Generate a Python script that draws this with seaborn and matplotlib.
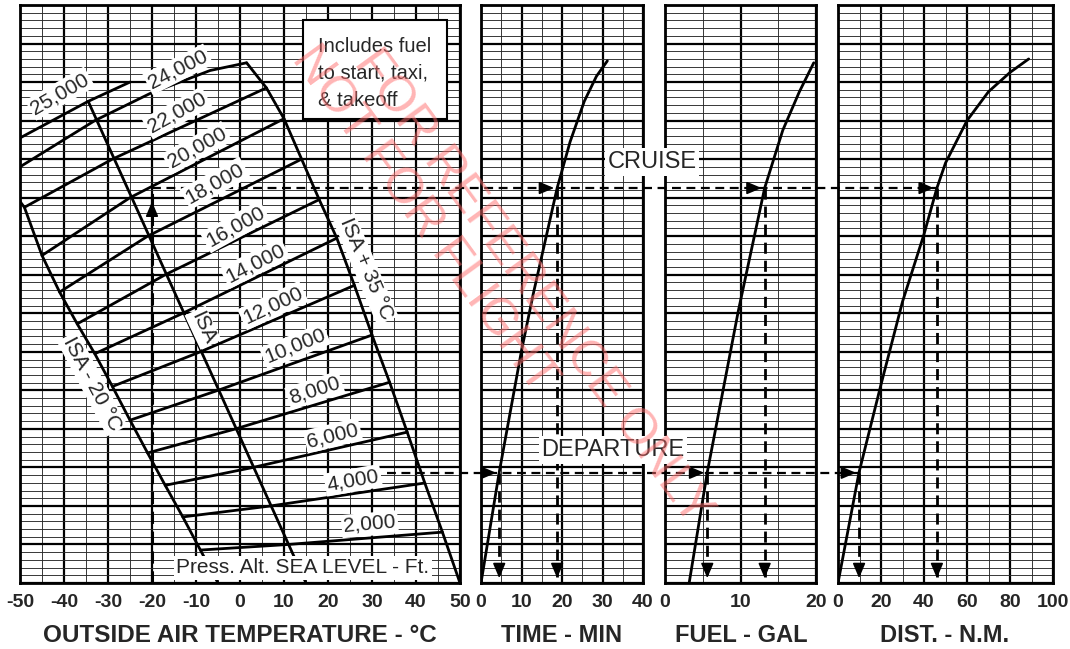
import numpy as np
import pandas as pd
import matplotlib
matplotlib.use("Agg")
import matplotlib.pyplot as plt
import seaborn as sns
from matplotlib.patches import Rectangle

sns.set_theme(style="white")
plt.rcParams['font.family'] = ['Liberation Sans', 'DejaVu Sans']

# ---------------- data ----------------
oat_ticks = [-50, -40, -30, -20, -10, 0, 10, 20, 30, 40, 50]
time_ticks = [0, 10, 20, 30, 40]
fuel_ticks = [0, 10, 20]
dist_ticks = [0, 20, 40, 60, 80, 100]

# pressure altitude lines : OAT (deg C) vs chart scale
pa_sl_oat = [-5, 15, 50];        pa_sl_y = [0.0, 0.0, 0.0]
pa_2k_oat = [-9, 11, 46];        pa_2k_y = [1.71, 2.0, 2.64]
pa_4k_oat = [-13, 7, 42];        pa_4k_y = [3.43, 4.0, 5.19]
pa_6k_oat = [-17, 3, 38];        pa_6k_y = [5.07, 6.0, 7.83]
pa_8k_oat = [-21, -1, 34];       pa_8k_y = [6.75, 8.0, 10.42]
pa_10k_oat = [-25, -5, 30];      pa_10k_y = [8.45, 10.0, 12.87]
pa_12k_oat = [-29, -9, 26];      pa_12k_y = [10.2, 12.0, 15.45]
pa_14k_oat = [-33, -13, 22];     pa_14k_y = [11.9, 14.0, 17.9]
pa_16k_oat = [-37, -17, 18];     pa_16k_y = [13.45, 16.0, 19.9]
pa_18k_oat = [-41, -21, 14];     pa_18k_y = [15.1, 18.0, 22.0]
pa_20k_oat = [-45, -25, 10];     pa_20k_y = [17.0, 20.0, 24.1]
pa_22k_oat = [-49, -29, 6];      pa_22k_y = [19.5, 22.0, 25.7]
pa_24k_oat = [-50, -33, -20.5, -6.8, 1.5]; pa_24k_y = [21.6, 24.0, 25.4, 26.6, 27.0]
pa_25k_oat = [-50, -34.5, -25];  pa_25k_y = [23.1, 25.0, 26.0]

isa_line_oat = [15, -34.5];      isa_line_y = [0.0, 25.0]
isa_m20_edge_oat = -50;          isa_m20_edge_y = 19.8

alt_label_text = ["25,000", "24,000", "22,000", "20,000", "18,000", "16,000", "14,000",
                  "12,000", "10,000", "8,000", "6,000", "4,000", "2,000"]
alt_label_oat = [-40.9, -14.1, -14.3, -9.8, -5.7, -1.1, 3.4, 7.5, 12.5, 17.0, 21.1, 25.7, 29.5]
alt_label_y = [25.4, 26.66, 24.4, 22.6, 20.75, 18.5, 16.6, 14.4, 12.3, 10.0, 7.66, 5.33, 3.05]
alt_label_rot = [30, 27, 29, 29, 29, 29, 27, 25, 22, 18, 14, 10, 5]

# climb curves (chart scale vs value)
time_min = [0, 4.5, 10.0, 12.9, 18.8, 22.0, 25.5, 28.5, 31.2]
time_y = [0, 5.75, 12.06, 15.0, 20.5, 22.9, 25.0, 26.3, 27.1]
fuel_gal = [3.2, 5.6, 9.7, 13.2, 15.6, 17.8, 19.7]
fuel_y = [0, 5.75, 14.1, 20.5, 23.5, 25.5, 27.0]
dist_nm = [0, 9.8, 20, 30, 40, 46, 50, 60, 70, 80, 88.7]
dist_y = [0, 5.75, 10.3, 14.6, 18.1, 20.5, 21.8, 24.0, 25.5, 26.5, 27.2]

# example (dashed) readings
cruise_y = 20.5;  cruise_oat = -20
cruise_time = 18.8; cruise_fuel = 13.2; cruise_dist = 46
depart_y = 5.72;  depart_start_oat = 33.5
depart_time = 4.5; depart_fuel = 5.6; depart_dist = 9.8

# ---------------- figure ----------------
W, H = 1070, 649
fig = plt.figure(figsize=(W / 100, H / 100), dpi=100)
fig.patch.set_facecolor("white")

def rect(x0, x1, y0=5, y1=583):
    return [x0 / W, 1 - y1 / H, (x1 - x0) / W, (y1 - y0) / H]

ax1 = fig.add_axes(rect(20, 460))
ax2 = fig.add_axes(rect(481, 643))
ax3 = fig.add_axes(rect(665, 816))
ax4 = fig.add_axes(rect(838, 1053))
ax1.set_zorder(5)

YMAX = 29.9
setup = [
    (ax1, (-50, 50), 10, 5, oat_ticks),
    (ax2, (0, 40), 10, 5, time_ticks),
    (ax3, (0, 20), 10, 5, fuel_ticks),
    (ax4, (0, 100), 20, 10, dist_ticks),
]
for ax, xl, xmaj, xmin, ticks in setup:
    ax.set_xlim(*xl)
    ax.set_ylim(0, YMAX)
    ax.set_xticks(np.arange(xl[0], xl[1] + 0.01, xmaj))
    ax.set_xticks(np.arange(xl[0], xl[1] + 0.01, xmin), minor=True)
    ax.set_xticklabels([str(t) for t in ticks], fontsize=14, fontweight="bold")
    ax.set_yticks(np.arange(0, 30.1, 2))
    ax.set_yticks(np.arange(0, 30.1, 0.4), minor=True)
    ax.set_yticklabels([])
    ax.tick_params(which="both", length=0, pad=8)
    ax.grid(which="minor", color="#2a2a2a", lw=0.65)
    ax.grid(which="major", color="black", lw=1.6)
    ax.set_axisbelow(True)
    for s in ax.spines.values():
        s.set_color("black")
        s.set_linewidth(2)
        s.set_visible(True)
    ax.set_xlabel("")
    ax.set_ylabel("")

# -------- left panel: altitude lines --------
pa_oats = [pa_sl_oat, pa_2k_oat, pa_4k_oat, pa_6k_oat, pa_8k_oat, pa_10k_oat, pa_12k_oat,
           pa_14k_oat, pa_16k_oat, pa_18k_oat, pa_20k_oat, pa_22k_oat, pa_24k_oat, pa_25k_oat]
pa_ys = [pa_sl_y, pa_2k_y, pa_4k_y, pa_6k_y, pa_8k_y, pa_10k_y, pa_12k_y,
         pa_14k_y, pa_16k_y, pa_18k_y, pa_20k_y, pa_22k_y, pa_24k_y, pa_25k_y]
for o, yv in zip(pa_oats, pa_ys):
    sns.lineplot(x=o, y=yv, ax=ax1, color="black", lw=2, sort=False, estimator=None, zorder=3)

# boundaries (ISA-20 through left ends, ISA+35 through right ends)
m20_oat = [o[0] for o in pa_oats[:12]] + [isa_m20_edge_oat]
m20_y = [yv[0] for yv in pa_ys[:12]] + [isa_m20_edge_y]
p35_oat = [o[-1] for o in pa_oats[:13]]
p35_y = [yv[-1] for yv in pa_ys[:13]]
sns.lineplot(x=m20_oat, y=m20_y, ax=ax1, color="black", lw=2, sort=False, estimator=None, zorder=3)
sns.lineplot(x=p35_oat, y=p35_y, ax=ax1, color="black", lw=2, sort=False, estimator=None, zorder=3)
sns.lineplot(x=isa_line_oat, y=isa_line_y, ax=ax1, color="black", lw=2, sort=False, estimator=None, zorder=3)

box = dict(boxstyle="square,pad=0.1", fc="white", ec="none")
for t, xo, yo, r in zip(alt_label_text, alt_label_oat, alt_label_y, alt_label_rot):
    ax1.text(xo, yo, t, rotation=r, rotation_mode="anchor", ha="center", va="center",
             fontsize=15, bbox=box, zorder=8)
ax1.text(14.3, 0.78, "Press. Alt. SEA LEVEL - Ft.", ha="center", va="center", fontsize=15,
         bbox=box, zorder=8)
ax1.text(-8.4, 13.25, "ISA", rotation=-65, rotation_mode="anchor", ha="center", va="center",
         fontsize=15, bbox=box, zorder=8)
ax1.text(-33.6, 10.35, "ISA - 20 °C", rotation=-62, rotation_mode="anchor", ha="center",
         va="center", fontsize=15, bbox=box, zorder=8)
ax1.text(28.6, 16.3, "ISA + 35 °C", rotation=-67, rotation_mode="anchor", ha="center",
         va="center", fontsize=15, bbox=box, zorder=8)

# note box
ax1.add_patch(Rectangle((14.3, 24.07), 32.75, 5.17, fc="white", ec="black", lw=1.5, zorder=8))
for yy, line in zip([27.85, 26.45, 25.05], ["Includes fuel", "to start, taxi,", "& takeoff"]):
    ax1.text(17.7, yy, line, ha="left", va="center", fontsize=14.5, zorder=9)

# -------- right panels: curves --------
sns.lineplot(x=time_min, y=time_y, ax=ax2, color="black", lw=2, sort=False, estimator=None)
sns.lineplot(x=fuel_gal, y=fuel_y, ax=ax3, color="black", lw=2, sort=False, estimator=None)
sns.lineplot(x=dist_nm, y=dist_y, ax=ax4, color="black", lw=2, sort=False, estimator=None)
for ax in (ax1, ax2, ax3, ax4):
    leg = ax.get_legend()
    if leg:
        leg.remove()

# -------- dashed example lines --------
def ax1x(ax, xv):
    disp = ax.transData.transform((xv, 0))
    return ax1.transData.inverted().transform(disp)[0]

dash = (0, (4, 2.5))
ax1.plot([cruise_oat, ax1x(ax4, cruise_dist)], [cruise_y, cruise_y], color="black", lw=1.6,
         ls=dash, clip_on=False, zorder=6)
ax1.plot([cruise_oat, cruise_oat], [0, cruise_y], color="black", lw=2.2, ls=dash, zorder=6)
ax1.plot([depart_start_oat, ax1x(ax4, depart_dist)], [depart_y, depart_y], color="black",
         lw=1.6, ls=dash, clip_on=False, zorder=6)

aprops = dict(arrowstyle="-|>,head_length=0.9,head_width=0.38", color="black", lw=1.2,
              shrinkA=0, shrinkB=0, mutation_scale=10)
ax1.annotate("", xy=(cruise_oat, cruise_y - 0.7), xytext=(0, -9), textcoords="offset points",
             arrowprops=aprops, zorder=7)

for ax, cv, dv in [(ax2, cruise_time, depart_time), (ax3, cruise_fuel, depart_fuel),
                   (ax4, cruise_dist, depart_dist)]:
    for v, yv in [(cv, cruise_y), (dv, depart_y)]:
        ax.plot([v, v], [yv, 0.3], color="black", lw=2.0, ls=dash)
        ax.annotate("", xy=(v, 0.25), xytext=(0, 9), textcoords="offset points", arrowprops=aprops)
        tip = ax.transData.inverted().transform(ax.transData.transform((v, yv)) - np.array([3, 0]))[0]
        ax.annotate("", xy=(tip, yv), xytext=(-9, 0), textcoords="offset points", arrowprops=aprops)

# -------- texts --------
lbox = dict(boxstyle="square,pad=0.12", fc="white", ec="none")
fig.text(652 / W, 1 - 162 / H, "CRUISE", fontsize=17, ha="center", va="center", bbox=lbox, zorder=15)
fig.text(613 / W, 1 - 450 / H, "DEPARTURE", fontsize=17, ha="center", va="center", bbox=lbox, zorder=15)

ty = 1 - 636 / H
fig.text(240 / W, ty, "OUTSIDE AIR TEMPERATURE - °C", fontsize=17.5, fontweight="bold", ha="center", va="center")
fig.text(562 / W, ty, "TIME - MIN", fontsize=17, fontweight="bold", ha="center", va="center")
fig.text(741 / W, ty, "FUEL - GAL", fontsize=17, fontweight="bold", ha="center", va="center")
fig.text(945 / W, ty, "DIST. - N.M.", fontsize=17, fontweight="bold", ha="center", va="center")

# watermark
wm = dict(fontsize=36, color=(1.0, 0.42, 0.42), alpha=0.5, rotation=-54, ha="center",
          va="center", rotation_mode="anchor", zorder=20)
fig.text(532 / W, 1 - 288 / H, "FOR REFERENCE ONLY", **wm)
fig.text(424 / W, 1 - 220 / H, "NOT FOR FLIGHT", **wm)

fig.savefig("out.png", dpi=100, facecolor="white")
